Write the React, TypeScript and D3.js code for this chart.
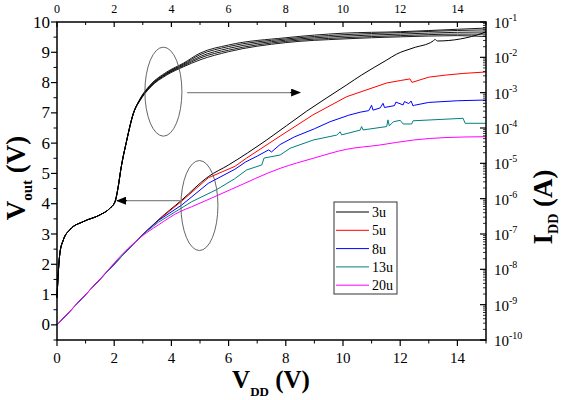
import React from 'react';
import * as d3 from 'd3';

// ---------- data ----------
const X_MAJOR = [0, 2, 4, 6, 8, 10, 12, 14];
const X_MINOR = [1, 3, 5, 7, 9, 11, 13, 15];
const YL_MAJOR = [0, 1, 2, 3, 4, 5, 6, 7, 8, 9, 10];
const YL_MINOR = [-0.5, 0.5, 1.5, 2.5, 3.5, 4.5, 5.5, 6.5, 7.5, 8.5, 9.5];
const YR_EXP = [-10, -9, -8, -7, -6, -5, -4, -3, -2, -1];

const SERIES = ['3u', '5u', '8u', '13u', '20u'];
const COLORS = ['#000000', '#ff0000', '#0000ff', '#008080', '#ff00ff'];

// Vout vs VDD (left axis), five nearly overlapping black curves
const VDD_OUT = [0, 0.05, 0.1, 0.22, 0.45, 0.92, 1.5, 1.85, 2.03, 2.14, 2.23, 2.44, 2.67, 2.9, 3.25, 3.84, 4.42, 5.0, 6, 8, 10, 12, 14, 15];
const VOUT_3U = [0.9, 1.8, 2.36, 2.8, 3.14, 3.41, 3.63, 3.85, 4.07, 4.56, 5.12, 6.1, 6.98, 7.46, 7.91, 8.35, 8.64, 8.97, 9.24, 9.48, 9.63, 9.68, 9.76, 9.8];
const VOUT_5U = [0.9, 1.8, 2.36, 2.8, 3.14, 3.41, 3.63, 3.85, 4.07, 4.56, 5.12, 6.1, 6.98, 7.44, 7.89, 8.32, 8.61, 8.92, 9.19, 9.44, 9.58, 9.65, 9.72, 9.74];
const VOUT_8U = [0.9, 1.8, 2.36, 2.8, 3.14, 3.41, 3.63, 3.85, 4.07, 4.56, 5.12, 6.1, 6.98, 7.43, 7.87, 8.3, 8.58, 8.86, 9.13, 9.4, 9.53, 9.6, 9.66, 9.67];
const VOUT_13U = [0.9, 1.8, 2.36, 2.8, 3.14, 3.41, 3.63, 3.85, 4.07, 4.56, 5.12, 6.1, 6.98, 7.42, 7.85, 8.28, 8.55, 8.81, 9.07, 9.36, 9.48, 9.55, 9.6, 9.6];
const VOUT_20U = [0.9, 1.8, 2.36, 2.8, 3.14, 3.41, 3.63, 3.85, 4.07, 4.56, 5.12, 6.1, 6.98, 7.4, 7.83, 8.25, 8.52, 8.75, 9.02, 9.32, 9.44, 9.51, 9.55, 9.52];

// IDD vs VDD (right log axis)
const VDD_3U = [0, 1.35, 2.7, 3.1, 3.54, 4.36, 5.29, 5.99, 7.33, 8.73, 10.13, 10.65, 11.53, 11.88, 12.45, 13.15, 13.22, 13.3, 14.9, 15];
const IDD_3U = [2.66e-10, 3.85e-9, 5.56e-8, 1.15e-7, 2.5e-7, 9.1e-7, 4.2e-6, 8.9e-6, 4.57e-5, 3.0e-4, 1.66e-3, 3.16e-3, 8.4e-3, 1.24e-2, 1.84e-2, 2.9e-2, 3.2e-2, 2.9e-2, 4.9e-2, 5.4e-2];

const VDD_5U = [0, 1.35, 2.7, 3.1, 3.54, 4.36, 5.29, 6.22, 6.63, 7.8, 8.95, 10.13, 11.53, 12.0, 12.34, 12.41, 13.0, 13.63, 14.2, 15];
const IDD_5U = [2.66e-10, 3.85e-9, 5.56e-8, 1.15e-7, 2.45e-7, 8.5e-7, 3.9e-6, 8.2e-6, 1.41e-5, 5.9e-5, 2.35e-4, 7.7e-4, 1.88e-3, 2.2e-3, 2.45e-3, 1.95e-3, 2.75e-3, 3.17e-3, 3.5e-3, 3.85e-3];

const VDD_8U = [0, 1.35, 2.7, 3.1, 3.54, 4.36, 5.29, 6.22, 6.6, 7.0, 7.4, 7.5, 7.8, 8.3, 9.0, 9.55, 10.2, 10.6, 10.9, 11.0, 11.05, 11.3, 11.4, 11.45, 11.8, 11.85, 12.1, 12.15, 12.3, 12.38, 12.45, 12.5, 13.0, 14.0, 15];
const IDD_8U = [2.66e-10, 3.85e-9, 5.56e-8, 1.14e-7, 2.4e-7, 6.6e-7, 2.72e-6, 6.8e-6, 1.1e-5, 1.6e-5, 2.4e-5, 2.1e-5, 3.4e-5, 5.6e-5, 9.5e-5, 1.51e-4, 2.3e-4, 2.8e-4, 3.1e-4, 4.4e-4, 3.2e-4, 3.7e-4, 5.0e-4, 3.8e-4, 4.3e-4, 5.4e-4, 4.5e-4, 5.6e-4, 4.9e-4, 5.8e-4, 4.2e-4, 4.4e-4, 5.3e-4, 5.9e-4, 6.2e-4];

const VDD_13U = [0, 1.35, 2.7, 3.1, 3.54, 4.71, 5.58, 6.2, 6.63, 7.16, 7.24, 7.8, 8.15, 8.96, 9.78, 9.9, 9.95, 10.6, 10.65, 10.7, 11.53, 11.57, 11.62, 11.76, 12.0, 12.1, 12.4, 12.45, 14.2, 14.27, 15];
const IDD_13U = [2.66e-10, 3.85e-9, 5.56e-8, 1.12e-7, 2.14e-7, 8.2e-7, 1.8e-6, 3.6e-6, 6.5e-6, 9.0e-6, 1.41e-5, 1.72e-5, 2.67e-5, 4.57e-5, 6.3e-5, 7.8e-5, 6.4e-5, 8.7e-5, 1.1e-4, 8.8e-5, 1.1e-4, 1.7e-4, 1.15e-4, 1.5e-4, 1.65e-4, 1.3e-4, 1.3e-4, 1.6e-4, 1.88e-4, 1.36e-4, 1.36e-4];

const VDD_20U = [0, 1.35, 2.49, 2.9, 3.54, 4.3, 4.71, 6.1, 7.8, 8.96, 10.13, 11.29, 12.46, 13.6, 15];
const IDD_20U = [2.66e-10, 3.85e-9, 3.94e-8, 7.8e-8, 1.8e-7, 4.3e-7, 5.9e-7, 1.85e-6, 7.2e-6, 1.39e-5, 2.5e-5, 3.3e-5, 4.57e-5, 5.37e-5, 5.67e-5];

// ---------- layout ----------
const W = 564;
const H = 400;
const L = 57;
const R = 486;
const T = 22;
const B = 340;
const FONT = "'Liberation Serif', 'DejaVu Serif', 'Times New Roman', serif";

const x = d3.scaleLinear().domain([0, 15]).range([L, R]);
const yL = d3.scaleLinear().domain([-0.5, 10]).range([B, T]);
const yR = d3.scaleLog().domain([1e-10, 1e-1]).range([B, T]);

const zip = (xs: number[], ys: number[]) => xs.map((v, i) => [v, ys[i]] as [number, number]);

const outLine = d3.line<[number, number]>().x(d => x(d[0])).y(d => yL(d[1])).curve(d3.curveMonotoneX);
const iLine = d3.line<[number, number]>().x(d => x(d[0])).y(d => yR(d[1])).curve(d3.curveLinear);
const iSmooth = d3.line<[number, number]>().x(d => x(d[0])).y(d => yR(d[1])).curve(d3.curveMonotoneX);

const VOUTS = [VOUT_3U, VOUT_5U, VOUT_8U, VOUT_13U, VOUT_20U];
const IDDS: [number[], number[]][] = [
  [VDD_3U, IDD_3U],
  [VDD_5U, IDD_5U],
  [VDD_8U, IDD_8U],
  [VDD_13U, IDD_13U],
  [VDD_20U, IDD_20U],
];

const txt: React.CSSProperties = { fontFamily: FONT };

export default function App() {
  const rMinor: number[] = [];
  for (let e = -10; e < -1; e++) {
    for (let m = 2; m <= 9; m++) rMinor.push(m * Math.pow(10, e));
  }
  return (
    <svg width={W} height={H} style={{ position: 'absolute', left: 0, top: 0, background: '#fff', fontFamily: FONT }}>
      <defs>
        <marker id="ah" markerWidth={10} markerHeight={8} refX={9} refY={4} orient="auto" markerUnits="userSpaceOnUse">
          <path d="M0,0 L10,4 L0,8 Z" fill="#000" />
        </marker>
      </defs>
      <rect x={0} y={0} width={W} height={H} fill="#fff" />

      {/* IDD curves */}
      {IDDS.map((s, i) => (
        <path
          key={'i' + i}
          d={(i === 4 || i === 0 ? iSmooth : iLine)(zip(s[0], s[1])) || ''}
          fill="none"
          stroke={COLORS[i]}
          strokeWidth={1}
        />
      ))}

      {/* Vout curves */}
      {VOUTS.map((v, i) => (
        <path key={'v' + i} d={outLine(zip(VDD_OUT, v)) || ''} fill="none" stroke="#000" strokeWidth={0.9} />
      ))}

      {/* annotations */}
      <ellipse cx={x(3.72)} cy={yL(7.7)} rx={18.5} ry={44.5} fill="none" stroke="#555" strokeWidth={0.9} />
      <line x1={x(4.55)} y1={yL(7.67)} x2={x(8.5) - 9} y2={yL(7.67)} stroke="#888" strokeWidth={1.3} />
      <line x1={x(8.5) - 10} y1={yL(7.67)} x2={x(8.5)} y2={yL(7.67)} stroke="#000" strokeWidth={1} markerEnd="url(#ah)" />
      <ellipse cx={x(4.98)} cy={yL(3.94)} rx={18.5} ry={45} fill="none" stroke="#555" strokeWidth={0.9} />
      <line x1={x(4.37)} y1={yL(4.1)} x2={x(2.1) + 9} y2={yL(4.1)} stroke="#888" strokeWidth={1.3} />
      <line x1={x(2.1) + 10} y1={yL(4.1)} x2={x(2.1)} y2={yL(4.1)} stroke="#000" strokeWidth={1} markerEnd="url(#ah)" />

      {/* frame */}
      <rect x={L} y={T} width={R - L} height={B - T} fill="none" stroke="#000" strokeWidth={1.5} />

      {/* bottom axis (outward ticks) */}
      {X_MAJOR.map(v => (
        <g key={'bx' + v}>
          <line x1={x(v)} x2={x(v)} y1={B} y2={B + 6} stroke="#000" strokeWidth={1.2} />
          <text x={x(v)} y={363} fontSize={15} textAnchor="middle" style={txt}>{v}</text>
        </g>
      ))}
      {X_MINOR.map(v => (
        <line key={'bm' + v} x1={x(v)} x2={x(v)} y1={B} y2={B + 3.5} stroke="#000" strokeWidth={1} />
      ))}

      {/* top axis (inward ticks) */}
      {X_MAJOR.map(v => (
        <g key={'tx' + v}>
          <line x1={x(v)} x2={x(v)} y1={T} y2={T + 5} stroke="#000" strokeWidth={1.2} />
          <text x={x(v)} y={13} fontSize={12} textAnchor="middle" style={txt}>{v}</text>
        </g>
      ))}
      {X_MINOR.map(v => (
        <line key={'tm' + v} x1={x(v)} x2={x(v)} y1={T} y2={T + 3} stroke="#000" strokeWidth={1} />
      ))}

      {/* left axis */}
      {YL_MAJOR.map(v => (
        <g key={'ly' + v}>
          <line x1={L - 6} x2={L} y1={yL(v)} y2={yL(v)} stroke="#000" strokeWidth={1.2} />
          <text x={50} y={yL(v) + 5.5} fontSize={17} textAnchor="end" style={txt}>{v}</text>
        </g>
      ))}
      {YL_MINOR.map(v => (
        <line key={'lm' + v} x1={L - 3.5} x2={L} y1={yL(v)} y2={yL(v)} stroke="#000" strokeWidth={1} />
      ))}

      {/* right axis (inward ticks) */}
      {YR_EXP.map(e => (
        <g key={'ry' + e}>
          <line x1={R - 6} x2={R} y1={yR(Math.pow(10, e))} y2={yR(Math.pow(10, e))} stroke="#000" strokeWidth={1.2} />
          <text x={494} y={yR(Math.pow(10, e)) + 6} fontSize={15} style={txt}>
            10<tspan fontSize={10} dy={-7}>{String(e)}</tspan>
          </text>
        </g>
      ))}
      {rMinor.map((v, i) => (
        <line key={'rm' + i} x1={R - 3} x2={R} y1={yR(v)} y2={yR(v)} stroke="#000" strokeWidth={0.8} />
      ))}

      {/* axis titles */}
      <text transform="translate(25,178) rotate(-90)" textAnchor="middle" fontSize={27} fontWeight="bold" style={txt}>
        V<tspan fontSize={15} dy={7}>out</tspan><tspan dy={-7}> (V)</tspan>
      </text>
      <text x={271} y={388} textAnchor="middle" fontSize={25} fontWeight="bold" style={txt}>
        V<tspan fontSize={13} dy={8}>DD</tspan><tspan dy={-8}> (V)</tspan>
      </text>
      <text transform="translate(552,207) rotate(-90)" textAnchor="middle" fontSize={27} fontWeight="bold" style={txt}>
        I<tspan fontSize={14} dy={6}>DD</tspan><tspan dy={-6}> (A)</tspan>
      </text>

      {/* legend */}
      <rect x={334} y={202} width={63} height={92} fill="#fff" stroke="#333" strokeWidth={1} />
      {SERIES.map((s, i) => {
        const cy = 212 + i * 18.3;
        return (
          <g key={'lg' + s}>
            <line x1={336} x2={369} y1={cy} y2={cy} stroke={COLORS[i]} strokeWidth={1} />
            <text x={372} y={cy + 5} fontSize={14} style={txt}>{s}</text>
          </g>
        );
      })}
    </svg>
  );
}
